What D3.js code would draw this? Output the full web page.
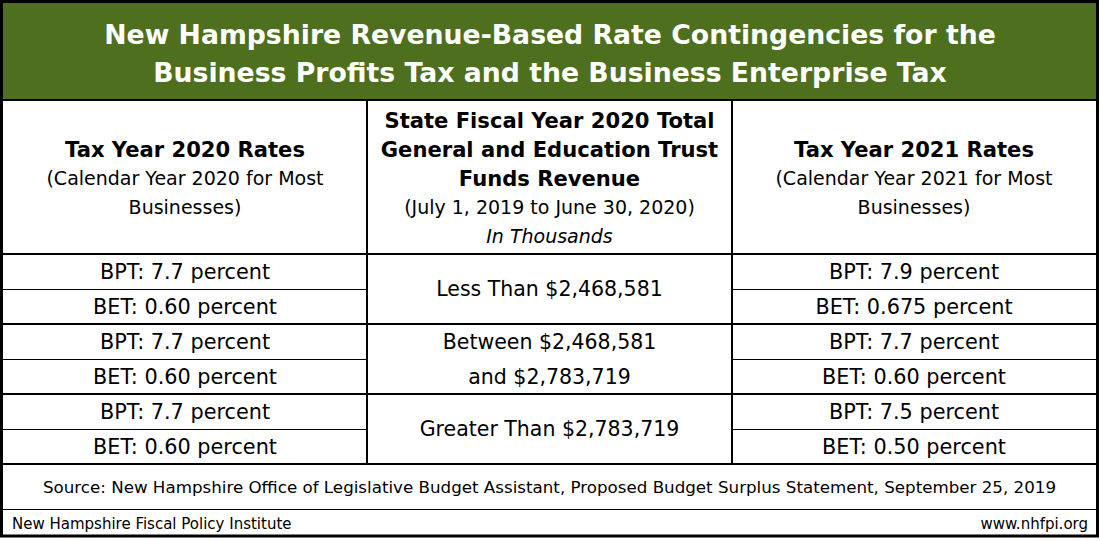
<!DOCTYPE html>
<html>
<head>
<meta charset="utf-8">
<script src="https://cdn.jsdelivr.net/npm/d3@7"></script>
<style>
  html, body { margin: 0; padding: 0; background: #fff; }
  svg { display: block; }
  text { font-family: "DejaVu Sans", Verdana, sans-serif; }
</style>
</head>
<body>
<svg id="chart" width="1100" height="541"></svg>
<script>
// ---------- data ----------
const titleLines = [
  "New Hampshire Revenue-Based Rate Contingencies for the",
  "Business Profits Tax and the Business Enterprise Tax"
];
const header2020 = ["Tax Year 2020 Rates", "(Calendar Year 2020 for Most", "Businesses)"];
const headerRevenue = [
  "State Fiscal Year 2020 Total",
  "General and Education Trust",
  "Funds Revenue",
  "(July 1, 2019 to June 30, 2020)",
  "In Thousands"
];
const header2021 = ["Tax Year 2021 Rates", "(Calendar Year 2021 for Most", "Businesses)"];
const rates2020 = [
  "BPT: 7.7 percent", "BET: 0.60 percent",
  "BPT: 7.7 percent", "BET: 0.60 percent",
  "BPT: 7.7 percent", "BET: 0.60 percent"
];
const revenueRanges = [
  ["Less Than $2,468,581"],
  ["Between $2,468,581", "and $2,783,719"],
  ["Greater Than $2,783,719"]
];
const rates2021 = [
  "BPT: 7.9 percent", "BET: 0.675 percent",
  "BPT: 7.7 percent", "BET: 0.60 percent",
  "BPT: 7.5 percent", "BET: 0.50 percent"
];
const sourceNote = "Source: New Hampshire Office of Legislative Budget Assistant, Proposed Budget Surplus Statement, September 25, 2019";
const footerLeft = "New Hampshire Fiscal Policy Institute";
const footerRight = "www.nhfpi.org";

// ---------- layout ----------
const svg = d3.select("#chart");
const W = 1100;
const green = "#4e6f1e";

const colEdges = [3, 367, 732, 1096];
const colCenter = i => (colEdges[i] + colEdges[i + 1]) / 2;

const titleY = d3.scalePoint().domain([0, 1]).range([34, 72]);
const headY = d3.scaleLinear().domain([0, 4]).range([120, 236]);
const rowY = d3.scaleBand().domain(d3.range(6)).range([254, 464]);

// background
svg.append("rect").attr("width", W).attr("height", 541).attr("fill", "#fff");

// green title band
svg.append("rect").attr("x", 3).attr("y", 3).attr("width", 1093).attr("height", 97).attr("fill", green);

svg.selectAll("text.title").data(titleLines).join("text")
  .attr("class", "title")
  .attr("x", W / 2).attr("y", (d, i) => titleY(i)).attr("dy", "0.36em")
  .attr("text-anchor", "middle")
  .attr("fill", "#fff").attr("font-weight", "bold").attr("font-size", 26.7)
  .text(d => d);

// ---------- header cells ----------
function headerColumn(lines, col, start, styles) {
  svg.append("g").selectAll("text").data(lines).join("text")
    .attr("x", colCenter(col))
    .attr("y", (d, i) => headY(start + i)).attr("dy", "0.36em")
    .attr("text-anchor", "middle")
    .attr("font-size", (d, i) => styles[i] === "b" ? 21.1 : 19)
    .attr("font-weight", (d, i) => styles[i] === "b" ? "bold" : "normal")
    .attr("font-style", (d, i) => styles[i] === "i" ? "italic" : "normal")
    .attr("fill", "#000")
    .text(d => d);
}
headerColumn(header2020, 0, 1, ["b", "n", "n"]);
headerColumn(headerRevenue, 1, 0, ["b", "b", "b", "n", "i"]);
headerColumn(header2021, 2, 1, ["b", "n", "n"]);

// ---------- data rows ----------
const bodySize = 20.8;
function rateColumn(values, col) {
  svg.append("g").selectAll("text").data(values).join("text")
    .attr("x", colCenter(col))
    .attr("y", (d, i) => rowY(i) + rowY.bandwidth() / 2).attr("dy", "0.36em")
    .attr("text-anchor", "middle").attr("font-size", bodySize).attr("fill", "#000")
    .text(d => d);
}
rateColumn(rates2020, 0);
rateColumn(rates2021, 2);

revenueRanges.forEach((lines, g) => {
  const top = rowY(g * 2), bottom = rowY(g * 2 + 1) + rowY.bandwidth();
  const mid = (top + bottom) / 2;
  svg.append("g").selectAll("text").data(lines).join("text")
    .attr("x", colCenter(1))
    .attr("y", (d, i) => lines.length === 1 ? mid : rowY(g * 2 + i) + rowY.bandwidth() / 2)
    .attr("dy", "0.36em")
    .attr("text-anchor", "middle").attr("font-size", 20.5).attr("fill", "#000")
    .text(d => d);
});

// ---------- source and footer ----------
svg.append("text").attr("x", W / 2 - 0.5).attr("y", 487).attr("dy", "0.36em")
  .attr("text-anchor", "middle").attr("font-size", 16.7).attr("fill", "#000").text(sourceNote);
svg.append("text").attr("x", 12).attr("y", 524).attr("dy", "0.36em")
  .attr("font-size", 15).attr("fill", "#000").text(footerLeft);
svg.append("text").attr("x", 1088).attr("y", 524).attr("dy", "0.36em")
  .attr("text-anchor", "end").attr("font-size", 15).attr("fill", "#000").text(footerRight);

// ---------- grid lines ----------
const lines = svg.append("g").attr("stroke", "#000").attr("fill", "none");
// thin lines inside the rate columns
[1, 3, 5].forEach(r => {
  const y = rowY(r) + 0.5;
  [0, 2].forEach(c => {
    lines.append("line").attr("x1", colEdges[c]).attr("x2", colEdges[c + 1])
      .attr("y1", y).attr("y2", y).attr("stroke-width", 1);
  });
});
// thick group separators
[0, 2, 4, 6].forEach(r => {
  const y = r < 6 ? rowY(r) : rowY(5) + rowY.bandwidth();
  lines.append("line").attr("x1", 3).attr("x2", 1096).attr("y1", y).attr("y2", y).attr("stroke-width", 2);
});
// header bottom
lines.append("line").attr("x1", 3).attr("x2", 1096).attr("y1", 100).attr("y2", 100).attr("stroke-width", 2);
// column dividers
[1, 2].forEach(c => {
  lines.append("line").attr("x1", colEdges[c]).attr("x2", colEdges[c])
    .attr("y1", 100).attr("y2", 464).attr("stroke-width", 2);
});
// source / footer separator
lines.append("line").attr("x1", 3).attr("x2", 1096).attr("y1", 509.5).attr("y2", 509.5).attr("stroke-width", 1);
// outer frame
lines.append("rect").attr("x", 1.5).attr("y", 1.5).attr("width", 1096).attr("height", 534.5).attr("stroke-width", 3);
</script>
</body>
</html>
